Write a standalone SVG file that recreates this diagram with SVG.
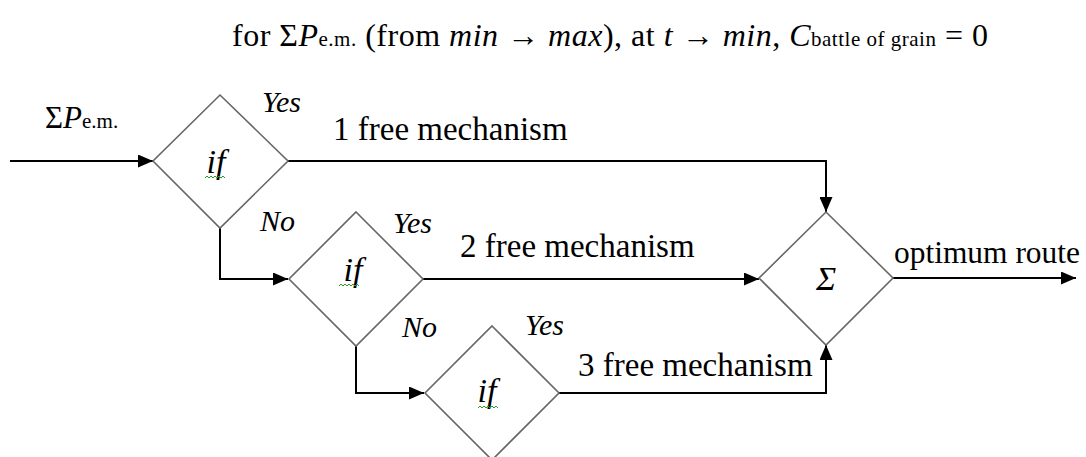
<svg xmlns="http://www.w3.org/2000/svg" width="1086" height="457" viewBox="0 0 1086 457">
<style>
text,tspan{font-family:"Liberation Serif","Times New Roman",serif;fill:#000}
.t{font-size:33px}
.i{font-style:italic}
.lbl{font-size:30px;font-style:italic}
.big{font-size:34px;font-style:italic}
.sub{font-size:21px}
.dia{fill:#fff;stroke:#666;stroke-width:1.6}
.con{fill:none;stroke:#000;stroke-width:2}
.sq{fill:none;stroke:#2a9a2a;stroke-width:1}
</style>
<defs>
<marker id="ah" viewBox="0 0 15 13" refX="15" refY="6.5" markerWidth="15" markerHeight="13" markerUnits="userSpaceOnUse" orient="auto">
<path d="M0,0 L15,6.5 L0,13 Z" fill="#000"/>
</marker>
</defs>

<text id="title" x="232" y="46" font-size="32" textLength="756" lengthAdjust="spacing">for Σ<tspan class="i">P</tspan><tspan class="sub">e.m.</tspan> (from <tspan class="i">min</tspan> → <tspan class="i">max</tspan>), at <tspan class="i">t</tspan> → <tspan class="i">min</tspan>, <tspan class="i">C</tspan><tspan class="sub">battle of grain</tspan> = 0</text>

<g id="connectors">
<path class="con" d="M10,161 H153" marker-end="url(#ah)"/>
<path class="con" d="M288,161 H826 V212" marker-end="url(#ah)"/>
<path class="con" d="M220,228 V279 H288" marker-end="url(#ah)"/>
<path class="con" d="M423,279 H759" marker-end="url(#ah)"/>
<path class="con" d="M356,346 V393 H424" marker-end="url(#ah)"/>
<path class="con" d="M559,393 H826 V345" marker-end="url(#ah)"/>
<path class="con" d="M893,278 H1076" marker-end="url(#ah)"/>
</g>

<g id="input-label">
<text x="45" y="128" font-size="31">Σ<tspan class="i">P</tspan><tspan class="sub">e.m.</tspan></text>
</g>

<g id="if1">
<path class="dia" d="M220,95 L288,161 L220,228 L153,161 Z"/>
<text class="big" x="216" y="173" text-anchor="middle">if</text>
<path class="sq" d="M205,178 l2,-2 2,2 2,-2 2,2 2,-2 2,2 2,-2 2,2 2,-2 2,2"/>
<text class="lbl" x="262" y="112">Yes</text>
<text class="lbl" x="260" y="231">No</text>
</g>

<g id="if2">
<path class="dia" d="M356,212 L423,279 L356,346 L289,279 Z"/>
<text class="big" x="353" y="281" text-anchor="middle">if</text>
<path class="sq" d="M339,286 l2,-2 2,2 2,-2 2,2 2,-2 2,2 2,-2 2,2 2,-2 2,2"/>
<text class="lbl" x="393" y="233">Yes</text>
<text class="lbl" x="402" y="337">No</text>
</g>

<g id="if3">
<path class="dia" d="M492,326 L559,393 L492,460 L425,393 Z"/>
<text class="big" x="487" y="402" text-anchor="middle">if</text>
<path class="sq" d="M478,408 l2,-2 2,2 2,-2 2,2 2,-2 2,2 2,-2 2,2 2,-2 2,2"/>
<text class="lbl" x="525" y="335">Yes</text>
</g>

<g id="sum">
<path class="dia" d="M826,212 L893,278 L826,345 L759,278 Z"/>
<text class="big" x="826" y="290" text-anchor="middle">Σ</text>
</g>

<g id="edge-labels">
<text class="t" x="333" y="140">1 free mechanism</text>
<text class="t" x="460" y="257">2 free mechanism</text>
<text class="t" x="578" y="376">3 free mechanism</text>
<text x="894" y="263" font-size="31" textLength="186" lengthAdjust="spacingAndGlyphs">optimum route</text>
</g>
</svg>
